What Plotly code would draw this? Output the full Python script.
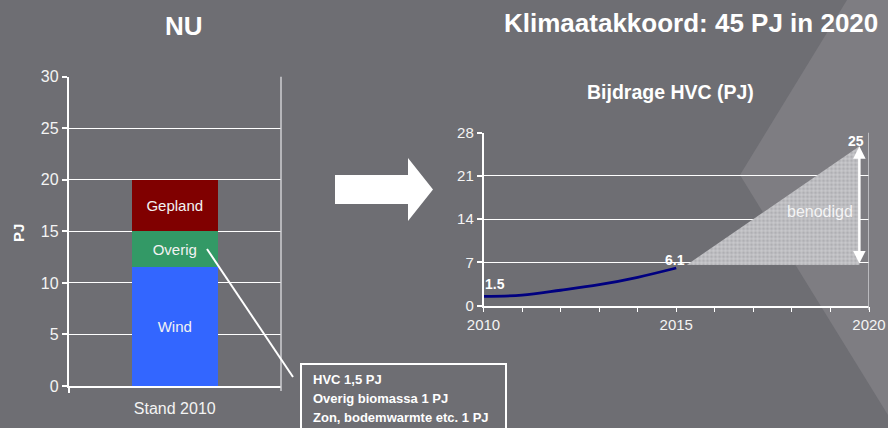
import plotly.graph_objects as go

W, H = 888, 428

# ---- data ----
bar_category = ["Stand 2010"]
bar_series = ["Wind", "Overig", "Gepland"]
bar_values = [11.5, 3.5, 5.0]
bar_colors = ["#3366FF", "#339966", "#800000"]

hvc_years = [2010, 2011, 2012, 2013, 2014, 2015]
hvc_values = [1.5, 1.7, 2.5, 3.4, 4.6, 6.1]
target_year = 2020
target_value = 25

needed_x = [2015.27, 2019.75, 2019.75, 2015.27]
needed_y = [6.6, 6.6, 25.8, 6.6]

left_yticks = [0, 5, 10, 15, 20, 25, 30]
right_yticks = [0, 7, 14, 21, 28]
right_xticks = list(range(2010, 2021))
right_xlabels = ["2010", "", "", "", "", "2015", "", "", "", "", "2020"]

box_lines = ["HVC 1,5 PJ", "Overig biomassa 1 PJ", "Zon, bodemwarmte etc. 1 PJ"]

BG = "#6e6e73"
LIGHT = "#7e7d82"
FONT = "Liberation Sans, Arial, sans-serif"


def px(x):
    return x / W


def py(y):
    return 1 - y / H


fig = go.Figure()

for name, val, col in zip(bar_series, bar_values, bar_colors):
    fig.add_trace(go.Bar(
        x=bar_category, y=[val], name=name, marker=dict(color=col, line=dict(width=0)),
        width=0.405, text=[name], texttemplate="%{text}", textposition="inside",
        insidetextanchor="middle", textfont=dict(color="#f2f2f2", size=15, family=FONT),
        xaxis="x", yaxis="y", showlegend=False, hoverinfo="y"))

fig.add_trace(go.Scatter(
    x=needed_x, y=needed_y, mode="lines", fill="toself",
    line=dict(width=0, color="rgba(0,0,0,0)"),
    fillcolor="#afafb3",
    fillpattern=dict(shape="+", fgcolor="#ffffff", bgcolor="#afafb3", size=4, solidity=0.35),
    xaxis="x2", yaxis="y2", showlegend=False, hoverinfo="skip"))

fig.add_trace(go.Scatter(
    x=hvc_years, y=hvc_values, mode="lines", line=dict(color="#000080", width=2.8, shape="spline"),
    xaxis="x2", yaxis="y2", showlegend=False))

shapes = []
# background decoration
shapes.append(dict(type="path", xref="paper", yref="paper", layer="below", line=dict(width=0),
                   fillcolor=LIGHT,
                   path=f"M {px(847)},{py(0)} L {px(888)},{py(0)} L {px(888)},{py(415)} L {px(740)},{py(175)} Z"))
# block arrow
pts = [(335, 175), (408, 175), (408, 158), (433, 189.5), (408, 221), (408, 204), (335, 204)]
path = "M " + " L ".join(f"{px(a)},{py(b)}" for a, b in pts) + " Z"
shapes.append(dict(type="path", xref="paper", yref="paper", line=dict(width=0), fillcolor="white", path=path))
# right border left chart
shapes.append(dict(type="line", xref="paper", yref="paper", x0=px(281), x1=px(281), y0=py(76.7), y1=py(391),
                   line=dict(color="#cfcfd2", width=1.5)))
# right border right chart
shapes.append(dict(type="line", xref="x2", yref="paper", x0=2020, x1=2020, y0=py(132.7), y1=py(310),
                   line=dict(color="#cfcfd2", width=1.5)))
# connector line
shapes.append(dict(type="line", xref="paper", yref="paper", x0=px(207), y0=py(249), x1=px(293), y1=py(377),
                   line=dict(color="white", width=2)))
# text box
shapes.append(dict(type="rect", xref="paper", yref="paper", x0=px(301), x1=px(506), y0=py(364), y1=py(440),
                   line=dict(color="white", width=2), fillcolor="rgba(0,0,0,0)"))

ann = []
ann.append(dict(text="<b>NU</b>", xref="paper", yref="paper", x=px(184), y=py(26), showarrow=False,
                font=dict(family=FONT, size=26, color="white"), xanchor="center", yanchor="middle"))
ann.append(dict(text="<b>Klimaatakkoord: 45 PJ in 2020</b>", xref="paper", yref="paper", x=px(691), y=py(23),
                showarrow=False, font=dict(family=FONT, size=26, color="white"), xanchor="center", yanchor="middle"))
ann.append(dict(text="<b>Bijdrage HVC (PJ)</b>", xref="paper", yref="paper", x=px(670), y=py(92), showarrow=False,
                font=dict(family=FONT, size=19.5, color="white"), xanchor="center", yanchor="middle"))
ann.append(dict(text="<b>PJ</b>", xref="paper", yref="paper", x=px(18), y=py(233), showarrow=False, textangle=-90,
                font=dict(family=FONT, size=15, color="white"), xanchor="center", yanchor="middle"))
for i, line in enumerate(box_lines):
    ann.append(dict(text=f"<b>{line}</b>", xref="paper", yref="paper", x=px(311), y=py(379 + 19 * i),
                    showarrow=False, font=dict(family=FONT, size=13, color="white"),
                    xanchor="left", yanchor="middle"))
ann.append(dict(text=f"<b>{hvc_values[0]}</b>", xref="x2", yref="y2", x=hvc_years[0], y=hvc_values[0],
                showarrow=False, xanchor="left", yanchor="bottom", xshift=0, yshift=2,
                font=dict(family=FONT, size=14, color="white")))
ann.append(dict(text=f"<b>{hvc_values[-1]}</b>", xref="x2", yref="y2", x=hvc_years[-1], y=hvc_values[-1],
                showarrow=False, xanchor="center", yanchor="bottom", xshift=-1, yshift=-2,
                font=dict(family=FONT, size=14, color="white")))
ann.append(dict(text=f"<b>{target_value}</b>", xref="x2", yref="y2", x=needed_x[1], y=needed_y[2],
                showarrow=False, xanchor="center", yanchor="bottom", xshift=-3, yshift=-5,
                font=dict(family=FONT, size=14, color="white")))
ann.append(dict(text="benodigd", xref="x2", yref="y2", x=2018.73, y=15.3, showarrow=False,
                font=dict(family=FONT, size=16, color="rgba(255,255,255,0.85)"), xanchor="center", yanchor="middle"))
# double arrow
ann.append(dict(text="", xref="x2", yref="y2", axref="x2", ayref="y2", x=needed_x[1], y=needed_y[2],
                ax=needed_x[1], ay=needed_y[0], showarrow=True, arrowhead=2, arrowside="end+start",
                arrowwidth=2.5, arrowsize=1, arrowcolor="white", standoff=0, startstandoff=0))

axis_font = dict(family=FONT, size=16, color="#f4f4f4")
right_font = dict(family=FONT, size=15, color="#f4f4f4")
fig.update_layout(
    width=W, height=H, margin=dict(l=0, r=0, t=0, b=0, pad=0, autoexpand=False),
    paper_bgcolor=BG, plot_bgcolor="rgba(0,0,0,0)", barmode="stack", showlegend=False,
    xaxis=dict(domain=[px(68.5), px(281)], type="category", showline=True, linecolor="white", linewidth=1.5,
               ticks="outside", tickson="boundaries", ticklen=5, tickcolor="white", tickwidth=1.5,
               ticklabelstandoff=7,
               showgrid=False, tickfont=axis_font, anchor="y", range=[-0.5, 0.5], automargin=False),
    yaxis=dict(domain=[py(386), py(76.7)], range=[0, 30], tickvals=left_yticks, showline=True,
               linecolor="white", linewidth=1.5, gridcolor="white", gridwidth=1.2, ticks="outside",
               ticklen=5, tickcolor="white", tickwidth=1.5, tickfont=axis_font, zeroline=False, anchor="x",
               automargin=False),
    xaxis2=dict(domain=[px(483.5), px(869)], range=[2010, 2020], tickvals=right_xticks, ticktext=right_xlabels,
                showline=True, linecolor="white", linewidth=1.5, ticks="outside", ticklen=5,
                tickcolor="white", tickwidth=1.2, showgrid=False, anchor="y2", automargin=False,
                tickfont=right_font),
    yaxis2=dict(domain=[py(305.7), py(132.7)], range=[0, 28], tickvals=right_yticks, showline=True,
                linecolor="white", linewidth=1.5, gridcolor="white", gridwidth=1.2, ticks="outside",
                ticklen=5, tickcolor="white", tickwidth=1.5, zeroline=False, anchor="x2", automargin=False,
                tickfont=right_font),
    shapes=shapes, annotations=ann,
)

fig.write_html("out.html", config={"displayModeBar": False},
               post_script="document.body.style.margin='0';document.body.style.overflow='hidden';")
